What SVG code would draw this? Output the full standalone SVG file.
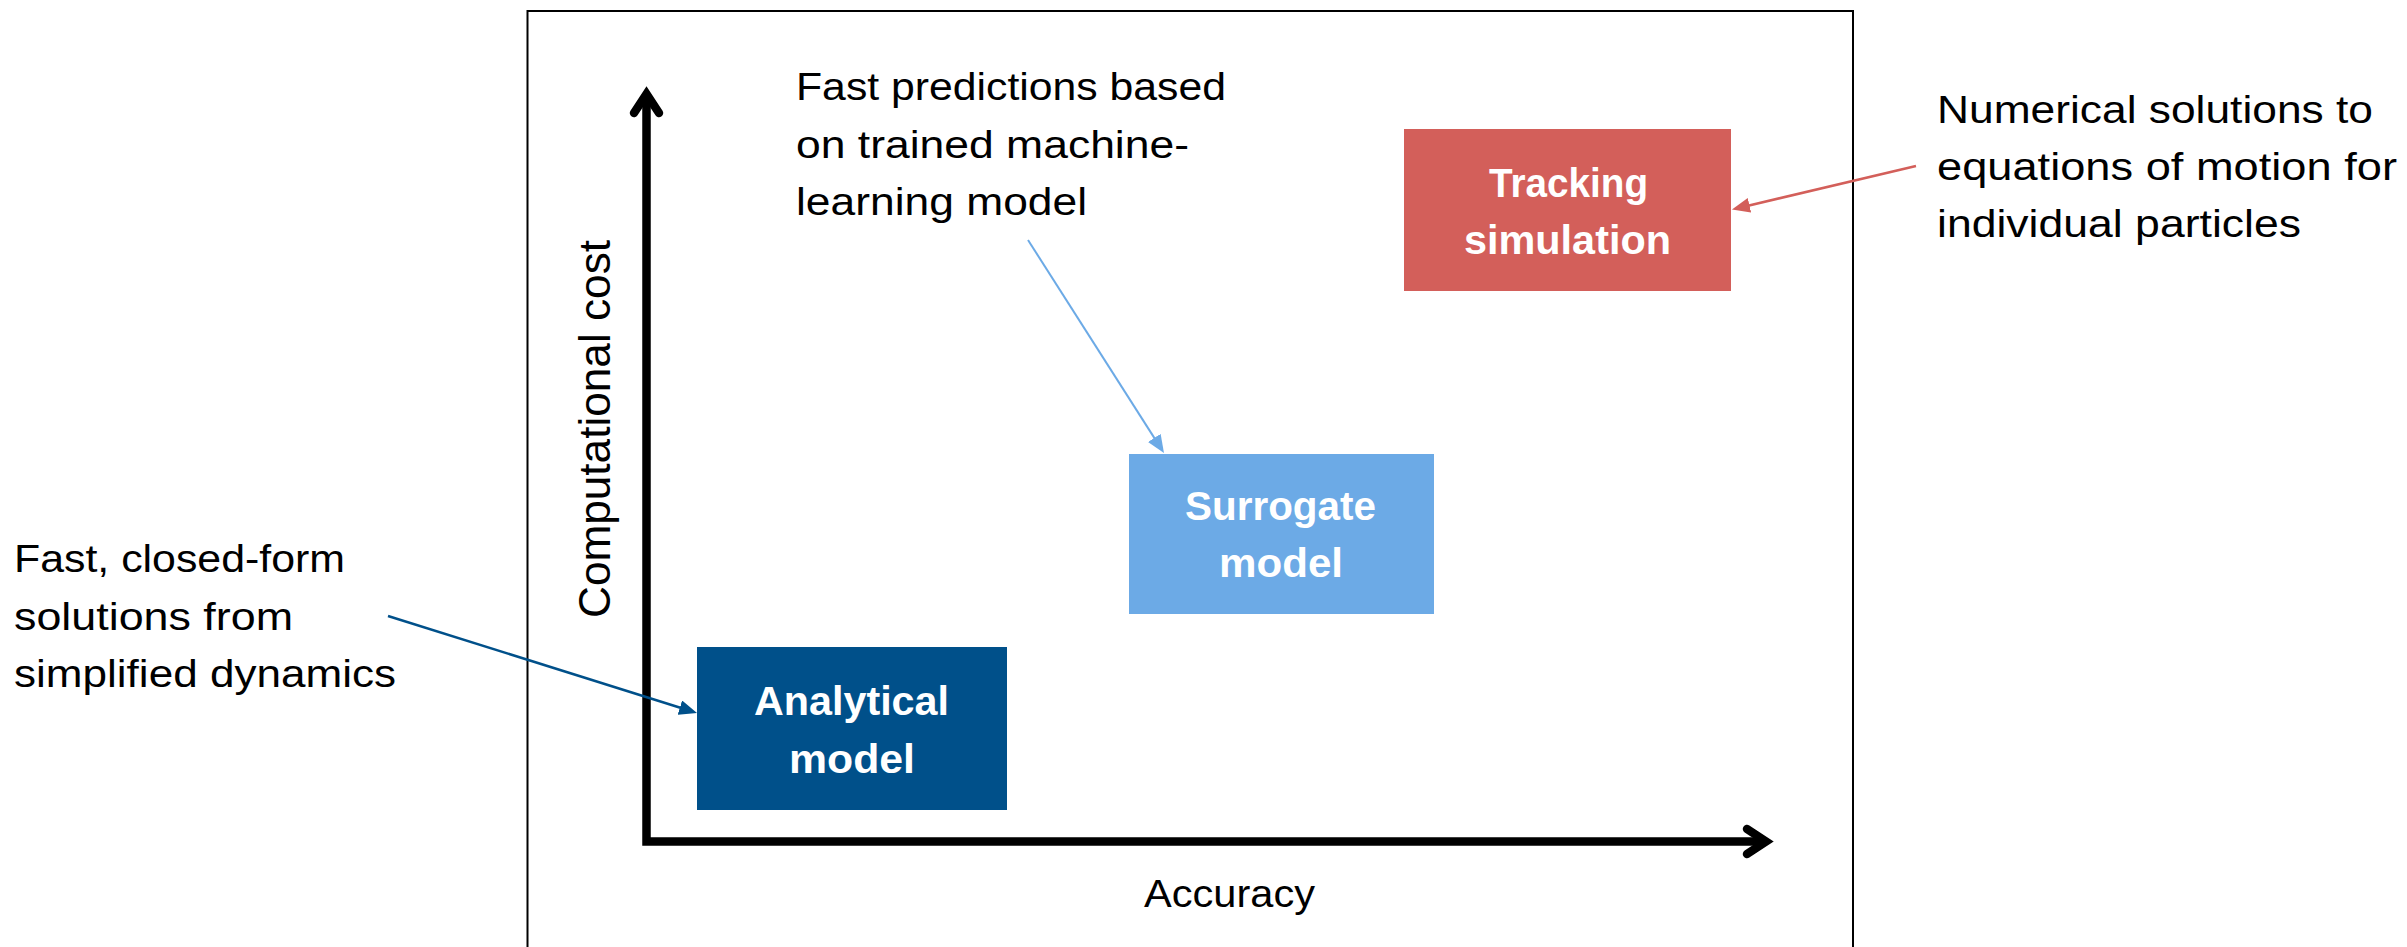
<svg xmlns="http://www.w3.org/2000/svg" width="2407" height="947" viewBox="0 0 2407 947">
  <style>
    .lbl { font-family: "Liberation Sans", Arial, sans-serif; font-size: 38px; fill: #000; }
    .box { font-family: "Liberation Sans", Arial, sans-serif; font-size: 40px; font-weight: bold; fill: #fff; }
    .axis { fill: none; stroke: #000; stroke-width: 8.5; stroke-linejoin: miter; stroke-linecap: butt; }
    .head { fill: none; stroke: #000; stroke-width: 8.5; stroke-linejoin: miter; stroke-linecap: round; }
  </style>
  <defs>
    <marker id="arrLight" markerUnits="userSpaceOnUse" markerWidth="18" markerHeight="15" refX="8" refY="7.5" orient="auto">
      <path d="M0,0 L18,7.5 L0,15 z" fill="#6CAAE6"/>
    </marker>
    <marker id="arrDark" markerUnits="userSpaceOnUse" markerWidth="18" markerHeight="15" refX="8" refY="7.5" orient="auto">
      <path d="M0,0 L18,7.5 L0,15 z" fill="#00508A"/>
    </marker>
    <marker id="arrRed" markerUnits="userSpaceOnUse" markerWidth="18" markerHeight="15" refX="8" refY="7.5" orient="auto">
      <path d="M0,0 L18,7.5 L0,15 z" fill="#D35F5A"/>
    </marker>
  </defs>
  <rect width="2407" height="947" fill="#fff"/>

  <g id="frame">
    <rect x="527.5" y="11" width="1325.5" height="1000" fill="none" stroke="#000" stroke-width="2"/>
  </g>

  <g id="axes">
    <path class="axis" d="M646.5,94 L646.5,841.5 L1766,841.5"/>
    <path class="head" d="M634,113 L646.5,94 L659,113"/>
    <path class="head" d="M1747,829 L1766,841.5 L1747,854"/>
    <text class="lbl" style="font-size:44px" transform="translate(610,429) rotate(-90)" x="-189" y="0" textLength="378" lengthAdjust="spacingAndGlyphs">Computational cost</text>
    <text class="lbl" x="1144" y="907" textLength="171" lengthAdjust="spacingAndGlyphs">Accuracy</text>
  </g>

  <g id="analytical">
    <rect x="697" y="647" width="310" height="163" fill="#00508A"/>
    <text class="box" x="754" y="715" textLength="195" lengthAdjust="spacingAndGlyphs">Analytical</text>
    <text class="box" x="789" y="773" textLength="126" lengthAdjust="spacingAndGlyphs">model</text>
  </g>

  <g id="surrogate">
    <rect x="1129" y="454" width="305" height="160" fill="#6CAAE6"/>
    <text class="box" x="1185" y="520" textLength="191" lengthAdjust="spacingAndGlyphs">Surrogate</text>
    <text class="box" x="1219" y="577" textLength="124" lengthAdjust="spacingAndGlyphs">model</text>
  </g>

  <g id="tracking">
    <rect x="1404" y="129" width="327" height="162" fill="#D35F5A"/>
    <text class="box" x="1489" y="197" textLength="159" lengthAdjust="spacingAndGlyphs">Tracking</text>
    <text class="box" x="1464" y="254" textLength="207" lengthAdjust="spacingAndGlyphs">simulation</text>
  </g>

  <g id="note-analytical">
    <text class="lbl" x="14" y="572" textLength="331" lengthAdjust="spacingAndGlyphs">Fast, closed-form</text>
    <text class="lbl" x="14" y="630" textLength="279" lengthAdjust="spacingAndGlyphs">solutions from</text>
    <text class="lbl" x="14" y="687" textLength="382" lengthAdjust="spacingAndGlyphs">simplified dynamics</text>
  </g>

  <g id="note-surrogate">
    <text class="lbl" x="796" y="100" textLength="430" lengthAdjust="spacingAndGlyphs">Fast predictions based</text>
    <text class="lbl" x="796" y="158" textLength="393" lengthAdjust="spacingAndGlyphs">on trained machine-</text>
    <text class="lbl" x="796" y="215" textLength="291" lengthAdjust="spacingAndGlyphs">learning model</text>
  </g>

  <g id="note-tracking">
    <text class="lbl" x="1937" y="123" textLength="436" lengthAdjust="spacingAndGlyphs">Numerical solutions to</text>
    <text class="lbl" x="1937" y="180" textLength="460" lengthAdjust="spacingAndGlyphs">equations of motion for</text>
    <text class="lbl" x="1937" y="237" textLength="364" lengthAdjust="spacingAndGlyphs">individual particles</text>
  </g>

  <g id="connectors">
    <line x1="388" y1="616" x2="687.5" y2="710" stroke="#00508A" stroke-width="2.5" marker-end="url(#arrDark)"/>
    <line x1="1028" y1="240" x2="1158.6" y2="444.6" stroke="#6CAAE6" stroke-width="2" marker-end="url(#arrLight)"/>
    <line x1="1916" y1="166" x2="1741.7" y2="207.2" stroke="#D35F5A" stroke-width="2.5" marker-end="url(#arrRed)"/>
  </g>
</svg>
